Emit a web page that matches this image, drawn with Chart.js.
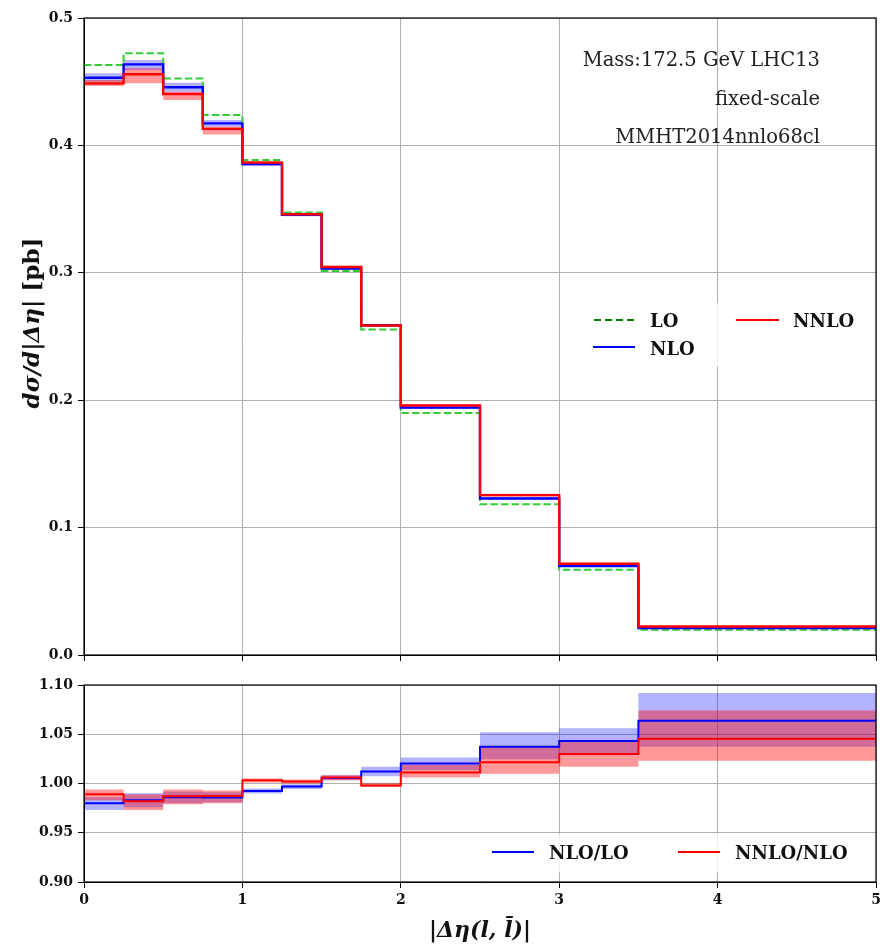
<!DOCTYPE html>
<html>
<head>
<meta charset="utf-8">
<title>|Δη(l, l̄)| distribution</title>
<script src="https://cdn.jsdelivr.net/npm/chart.js@4.4.1/dist/chart.umd.min.js"></script>
<style>
  body { margin: 0; background: #fff; }
  #wrap { position: relative; width: 882px; height: 944px; }
  canvas { position: absolute; left: 0; }
  #mainChart { top: 0; }
  #ratioChart { top: 670px; }
</style>
</head>
<body>
<div id="wrap">
  <canvas id="mainChart" width="882" height="670"></canvas>
  <canvas id="ratioChart" width="882" height="274"></canvas>
</div>
<script>
// bin edges in |Δη(l, l̄)|
const binEdges = [0, 0.25, 0.5, 0.75, 1, 1.25, 1.5, 1.75, 2, 2.5, 3, 3.5, 5];

// dσ/d|Δη| [pb], one value per bin
const xsecLO = [0.4631, 0.4723, 0.4526, 0.4238, 0.3885, 0.3474, 0.3015, 0.2555, 0.1899, 0.1183, 0.0669, 0.0198];
const xsecNLO = [0.4531, 0.4636, 0.4456, 0.4173, 0.3853, 0.3455, 0.3034, 0.2588, 0.1942, 0.1229, 0.0698, 0.0211];
const xsecNNLO = [0.4487, 0.4558, 0.4403, 0.4130, 0.3865, 0.3460, 0.3046, 0.2586, 0.1958, 0.1255, 0.0716, 0.0224];

// scale variation bands
const nloLow = [0.4500, 0.4592, 0.4421, 0.4146, 0.3838, 0.3443, 0.3024, 0.2578, 0.1930, 0.1220, 0.0690, 0.0205];
const nloHigh = [0.4566, 0.4670, 0.4492, 0.4199, 0.3868, 0.3467, 0.3044, 0.2598, 0.1954, 0.1240, 0.0706, 0.0217];
const nnloLow = [0.4466, 0.4487, 0.4356, 0.4086, 0.3853, 0.3450, 0.3037, 0.2578, 0.1950, 0.1245, 0.0708, 0.0220];
const nnloHigh = [0.4513, 0.4605, 0.4421, 0.4146, 0.3877, 0.3470, 0.3055, 0.2594, 0.1966, 0.1265, 0.0722, 0.0228];

// ratios with their bands
const ratioNLO = [0.980, 0.983, 0.986, 0.9857, 0.9925, 0.9969, 1.0057, 1.0122, 1.0204, 1.0374, 1.0432, 1.0636];
const ratioNLOLow = [0.973, 0.976, 0.980, 0.981, 0.9898, 0.9945, 1.0034, 1.0074, 1.0136, 1.0245, 1.031, 1.0374];
const ratioNLOHigh = [0.986, 0.990, 0.992, 0.991, 0.9949, 0.9993, 1.0085, 1.017, 1.0265, 1.052, 1.056, 1.0918];
const ratioNNLO = [0.989, 0.982, 0.987, 0.9874, 1.0034, 1.002, 1.006, 0.998, 1.0112, 1.0217, 1.030, 1.0455];
const ratioNNLOLow = [0.983, 0.973, 0.979, 0.980, 1.001, 1.000, 1.0034, 0.9965, 1.006, 1.010, 1.017, 1.023];
const ratioNNLOHigh = [0.994, 0.989, 0.994, 0.993, 1.0051, 1.0041, 1.0085, 1.0006, 1.0187, 1.037, 1.0435, 1.074];

// axis ticks
const xTickValues = [0, 1, 2, 3, 4, 5];
const mainTickValues = [0, 0.1, 0.2, 0.3, 0.4, 0.5];
const ratioTickValues = [0.9, 0.95, 1.0, 1.05, 1.1];

const infoLines = ["Mass:172.5 GeV LHC13", "fixed-scale", "MMHT2014nnlo68cl"];

const gridColor = "#b0b0b0";
const tickFont = { family: "DejaVu Serif", weight: "bold", size: 14 };
const labelFont = "bold 18px 'DejaVu Serif'";

// histogram points: each value starts at its left bin edge, last one repeated at the end
const toSteps = (vals) =>
  binEdges.map((x, i) => ({ x: x, y: vals[Math.min(i, vals.length - 1)] }));

const lineSet = (label, vals, color, width, order, dash) => ({
  label: label,
  data: toSteps(vals),
  stepped: "before",
  borderColor: color,
  borderWidth: width,
  borderDash: dash || [],
  pointRadius: 0,
  fill: false,
  order: order,
});

const bandSet = (lowVals, highVals, color, order) => [
  {
    label: "band low",
    data: toSteps(lowVals),
    stepped: "before",
    borderColor: "rgba(0,0,0,0)",
    borderWidth: 1,
    pointRadius: 0,
    fill: false,
    order: order,
  },
  {
    label: "band high",
    data: toSteps(highVals),
    stepped: "before",
    borderColor: "rgba(0,0,0,0)",
    borderWidth: 1,
    pointRadius: 0,
    fill: "-1",
    backgroundColor: color,
    order: order,
  },
];

// full box around the plot area
const framePlugin = {
  id: "frame",
  afterDatasetsDraw(chart) {
    const { ctx, chartArea: a } = chart;
    ctx.save();
    ctx.strokeStyle = "#000";
    ctx.lineWidth = 1.2;
    ctx.strokeRect(a.left, a.top, a.right - a.left, a.bottom - a.top);
    ctx.restore();
  },
};

const drawLegend = (ctx, box, entries) => {
  ctx.save();
  ctx.fillStyle = "rgba(255,255,255,0.8)";
  ctx.fillRect(box.x, box.y, box.w, box.h);
  entries.forEach((e) => {
    ctx.beginPath();
    ctx.setLineDash(e.dash || []);
    ctx.strokeStyle = e.color;
    ctx.lineWidth = 2;
    ctx.moveTo(e.x1, e.y);
    ctx.lineTo(e.x2, e.y);
    ctx.stroke();
    ctx.setLineDash([]);
    ctx.font = labelFont;
    ctx.fillStyle = "#111";
    ctx.textAlign = "left";
    ctx.textBaseline = "alphabetic";
    ctx.fillText(e.text, e.tx, e.ty);
  });
  ctx.restore();
};

const mainNotes = {
  id: "mainNotes",
  afterDraw(chart) {
    const ctx = chart.ctx;
    ctx.save();
    ctx.font = "19.5px 'DejaVu Serif'";
    ctx.fillStyle = "#222";
    ctx.textAlign = "right";
    ctx.textBaseline = "alphabetic";
    const baselines = [66, 104.5, 143];
    infoLines.forEach((t, i) => ctx.fillText(t, 820, baselines[i]));
    ctx.restore();

    // y axis title: math part in bold italic, unit upright
    ctx.save();
    ctx.translate(33, 323);
    ctx.rotate(-Math.PI / 2);
    ctx.fillStyle = "#111";
    ctx.textBaseline = "middle";
    ctx.textAlign = "left";
    const mathPart = "dσ/d|Δη|";
    const unitPart = " [pb]";
    const mathFont = "italic bold 23px 'DejaVu Serif'";
    const unitFont = "bold 23px 'DejaVu Serif'";
    ctx.font = mathFont;
    const w1 = ctx.measureText(mathPart).width;
    ctx.font = unitFont;
    const w2 = ctx.measureText(unitPart).width;
    const start = -(w1 + w2) / 2;
    ctx.font = mathFont;
    ctx.fillText(mathPart, start, 0);
    ctx.font = unitFont;
    ctx.fillText(unitPart, start + w1, 0);
    ctx.restore();

    drawLegend(ctx, { x: 580, y: 303, w: 290, h: 64 }, [
      { text: "LO", color: "green", dash: [7, 4], x1: 594, x2: 634, y: 320, tx: 650, ty: 327 },
      { text: "NLO", color: "#0000ff", x1: 593, x2: 635, y: 347, tx: 650, ty: 355 },
      { text: "NNLO", color: "#ff0000", x1: 736, x2: 779, y: 320, tx: 793, ty: 327 },
    ]);
  },
};

const ratioNotes = {
  id: "ratioNotes",
  afterDraw(chart) {
    // canvas sits 670px down the page
    drawLegend(chart.ctx, { x: 482, y: 164, w: 388, h: 38 }, [
      { text: "NLO/LO", color: "#0000ff", x1: 492, x2: 534, y: 182, tx: 549, ty: 189 },
      { text: "NNLO/NLO", color: "#ff0000", x1: 678, x2: 720, y: 182, tx: 735, ty: 189 },
    ]);
  },
};

const setTicks = (values) => (scale) => {
  scale.ticks = values.map((v) => ({ value: v }));
};

const createMainChart = () => {
  let canvasElement = document.getElementById("mainChart");

  let config = {
    type: "line",
    data: {
      datasets: [
        lineSet("NNLO", xsecNNLO, "#ff0000", 2.4, 0),
        lineSet("NLO", xsecNLO, "#0000ff", 2.4, 1),
        lineSet("LO", xsecLO, "#32cd32", 2, 2, [7.4, 3.2]),
        ...bandSet(nnloLow, nnloHigh, "rgba(255,0,0,0.4)", 10),
        ...bandSet(nloLow, nloHigh, "rgba(0,0,255,0.3)", 20),
      ],
    },
    options: {
      responsive: false,
      animation: false,
      events: [],
      layout: { padding: { top: 18, right: 6, left: 0, bottom: 0 } },
      plugins: {
        legend: { display: false },
        tooltip: { enabled: false },
        filler: { drawTime: "beforeDatasetsDraw" },
      },
      scales: {
        x: {
          type: "linear",
          min: 0,
          max: 5,
          afterBuildTicks: setTicks(xTickValues),
          afterFit: (scale) => {
            scale.height = 15;
            scale.paddingLeft = 0;
            scale.paddingRight = 0;
          },
          ticks: { display: false },
          grid: { color: gridColor, lineWidth: 1, tickColor: "#000", tickLength: 6 },
          border: { color: "#000", width: 1 },
        },
        y: {
          type: "linear",
          min: 0,
          max: 0.5,
          afterBuildTicks: setTicks(mainTickValues),
          afterFit: (scale) => {
            scale.width = 84;
          },
          ticks: {
            font: tickFont,
            color: "#111",
            padding: 5,
            callback: (v) => v.toFixed(1),
          },
          grid: { color: gridColor, lineWidth: 1, tickColor: "#000", tickLength: 6 },
          border: { color: "#000", width: 1 },
        },
      },
    },
    plugins: [framePlugin, mainNotes],
  };
  new Chart(canvasElement, config);
};

const createRatioChart = () => {
  let canvasElement = document.getElementById("ratioChart");

  let config = {
    type: "line",
    data: {
      datasets: [
        lineSet("NNLO/NLO", ratioNNLO, "#ff0000", 2, 0),
        lineSet("NLO/LO", ratioNLO, "#0000ff", 2, 1),
        ...bandSet(ratioNNLOLow, ratioNNLOHigh, "rgba(255,0,0,0.4)", 10),
        ...bandSet(ratioNLOLow, ratioNLOHigh, "rgba(0,0,255,0.3)", 20),
      ],
    },
    options: {
      responsive: false,
      animation: false,
      events: [],
      layout: { padding: { top: 15, right: 6, left: 0, bottom: 0 } },
      plugins: {
        legend: { display: false },
        tooltip: { enabled: false },
        filler: { drawTime: "beforeDatasetsDraw" },
      },
      scales: {
        x: {
          type: "linear",
          min: 0,
          max: 5,
          afterBuildTicks: setTicks(xTickValues),
          afterFit: (scale) => {
            scale.height = 62;
            scale.paddingLeft = 0;
            scale.paddingRight = 0;
          },
          ticks: { font: tickFont, color: "#111", padding: 4, maxRotation: 0 },
          grid: { color: gridColor, lineWidth: 1, tickColor: "#000", tickLength: 6 },
          border: { color: "#000", width: 1 },
          title: {
            display: true,
            text: "|Δη(l, l\u0304)|",
            color: "#111",
            font: { family: "DejaVu Serif", weight: "bold", style: "italic", size: 22 },
            padding: { top: 0, bottom: 0 },
          },
        },
        y: {
          type: "linear",
          min: 0.9,
          max: 1.1,
          afterBuildTicks: setTicks(ratioTickValues),
          afterFit: (scale) => {
            scale.width = 84;
          },
          ticks: {
            font: tickFont,
            color: "#111",
            padding: 5,
            callback: (v) => v.toFixed(2),
          },
          grid: { color: gridColor, lineWidth: 1, tickColor: "#000", tickLength: 6 },
          border: { color: "#000", width: 1 },
        },
      },
    },
    plugins: [framePlugin, ratioNotes],
  };
  new Chart(canvasElement, config);
};

createMainChart();
createRatioChart();
</script>
</body>
</html>
